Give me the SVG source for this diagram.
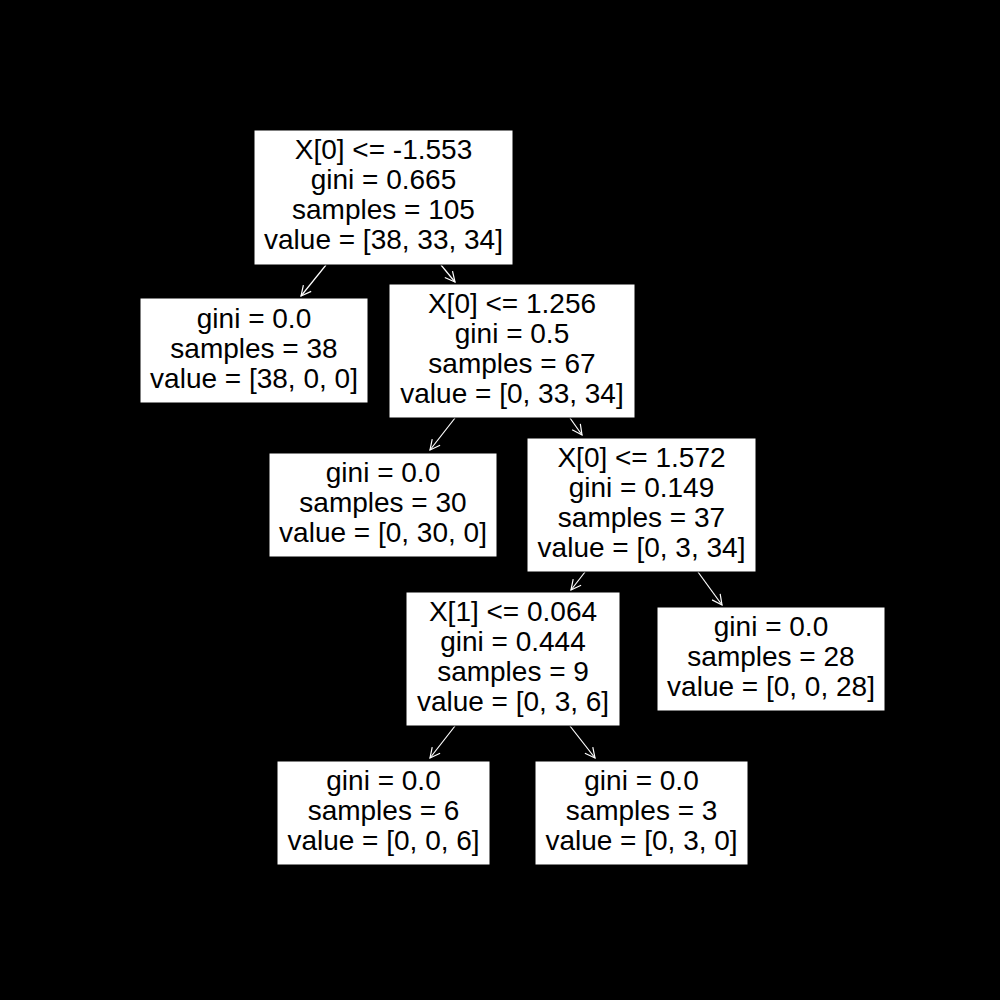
<svg xmlns="http://www.w3.org/2000/svg" width="1000" height="1000" viewBox="0 0 1000 1000">
<style>
.box{fill:#fff;stroke:#000;stroke-width:1}
text{font-family:"Liberation Sans",Arial,sans-serif;font-size:28px;fill:#000;text-anchor:middle}
.edge{stroke:#fff;stroke-width:1.2;fill:none;marker-end:url(#arr)}
</style>
<defs>
<marker id="arr" viewBox="0 0 12 12" refX="11" refY="6" markerWidth="12" markerHeight="12" markerUnits="userSpaceOnUse" orient="auto">
<path d="M1,1 L11,6 L1,11" fill="none" stroke="#fff" stroke-width="1.2"/>
</marker>
</defs>
<rect width="1000" height="1000" fill="#000"/>
<g id="connectors">
<line class="edge" x1="326" y1="265" x2="301" y2="296"/>
<line class="edge" x1="441" y1="265" x2="455" y2="282"/>
<line class="edge" x1="455" y1="418" x2="430" y2="450"/>
<line class="edge" x1="570" y1="418" x2="582" y2="435"/>
<line class="edge" x1="585" y1="572" x2="571" y2="590"/>
<line class="edge" x1="698" y1="572" x2="722" y2="605"/>
<line class="edge" x1="455" y1="726" x2="430" y2="758"/>
<line class="edge" x1="570" y1="726" x2="595" y2="758"/>
</g>
<g id="n0">
<rect class="box" x="254" y="130" width="259" height="135"/>
<text x="383.5" y="159">X[0] &lt;= -1.553</text>
<text x="383.5" y="189">gini = 0.665</text>
<text x="383.5" y="219">samples = 105</text>
<text x="383.5" y="249">value = [38, 33, 34]</text>
</g>
<g id="n1">
<rect class="box" x="140" y="298" width="228" height="105"/>
<text x="254" y="328">gini = 0.0</text>
<text x="254" y="358">samples = 38</text>
<text x="254" y="388">value = [38, 0, 0]</text>
</g>
<g id="n2">
<rect class="box" x="389" y="284" width="246" height="134"/>
<text x="512" y="313">X[0] &lt;= 1.256</text>
<text x="512" y="343">gini = 0.5</text>
<text x="512" y="373">samples = 67</text>
<text x="512" y="403">value = [0, 33, 34]</text>
</g>
<g id="n3">
<rect class="box" x="269" y="453" width="228" height="104"/>
<text x="383" y="482">gini = 0.0</text>
<text x="383" y="512">samples = 30</text>
<text x="383" y="542">value = [0, 30, 0]</text>
</g>
<g id="n4">
<rect class="box" x="527" y="438" width="229" height="134"/>
<text x="641.5" y="467">X[0] &lt;= 1.572</text>
<text x="641.5" y="497">gini = 0.149</text>
<text x="641.5" y="527">samples = 37</text>
<text x="641.5" y="557">value = [0, 3, 34]</text>
</g>
<g id="n5">
<rect class="box" x="406" y="592" width="214" height="134"/>
<text x="513" y="621">X[1] &lt;= 0.064</text>
<text x="513" y="651">gini = 0.444</text>
<text x="513" y="681">samples = 9</text>
<text x="513" y="711">value = [0, 3, 6]</text>
</g>
<g id="n6">
<rect class="box" x="657" y="607" width="228" height="104"/>
<text x="771" y="636">gini = 0.0</text>
<text x="771" y="666">samples = 28</text>
<text x="771" y="696">value = [0, 0, 28]</text>
</g>
<g id="n7">
<rect class="box" x="277" y="761" width="213" height="104"/>
<text x="383.5" y="790">gini = 0.0</text>
<text x="383.5" y="820">samples = 6</text>
<text x="383.5" y="850">value = [0, 0, 6]</text>
</g>
<g id="n8">
<rect class="box" x="535" y="761" width="213" height="104"/>
<text x="641.5" y="790">gini = 0.0</text>
<text x="641.5" y="820">samples = 3</text>
<text x="641.5" y="850">value = [0, 3, 0]</text>
</g>
</svg>
